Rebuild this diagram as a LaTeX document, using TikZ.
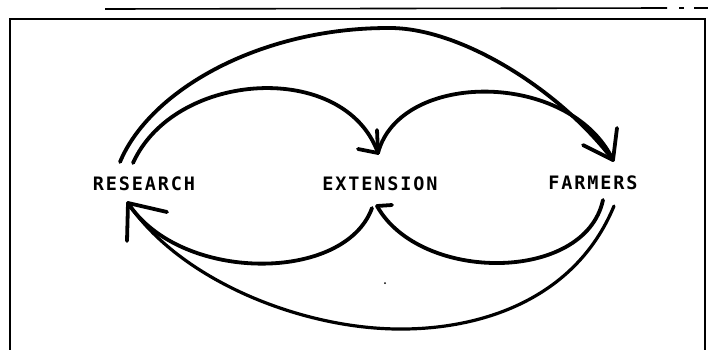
\documentclass[tikz,border=0pt]{standalone}
\usepackage{fontspec}
\newfontfamily\plotfont[LetterSpace=10]{DejaVu Sans Mono}
\begin{document}
\begin{tikzpicture}[x=1pt,y=-1pt,
  pen/.style={line width=3.8pt,line cap=round,line join=round},
  thinpen/.style={line width=3.2pt,line cap=round,line join=round},
  lab/.style={font=\plotfont\bfseries\fontsize{18.5}{18.5}\selectfont,inner sep=0pt,anchor=center}]
\useasboundingbox (0,0) rectangle (708,349);
\clip (0,0) rectangle (708,349);
\fill[white] (0,0) rectangle (708,349);
% scan line and frame
\draw[line width=1.6pt] (105,9) -- (667,8);
\draw[line width=1.4pt] (679,8) -- (684,8);
\draw[line width=1.4pt] (694,8) -- (708,8);
\draw[line width=1.8pt] (10,360) -- (10,19) -- (705,19) -- (705,360);
% labels
\node[lab] (research) at (144,184) {RESEARCH};
\node[lab] (extension) at (380,184) {EXTENSION};
\node[lab] (farmers) at (593,183) {FARMERS};
% anchor points
\coordinate (R1) at (120,162);
\coordinate (R2) at (133,163);
\coordinate (Rtip) at (128,203);
\coordinate (Etop) at (378,153);
\coordinate (Ebot) at (377,206);
\coordinate (Eout) at (372,208);
\coordinate (Ftip) at (613,160);
\coordinate (F1) at (603,200);
\coordinate (F2) at (614,206);
\coordinate (P) at (388,28);
\coordinate (Q) at (397,329);
% upper arcs
\draw[pen] (R1) .. controls (150,90) and (260,28) .. (P)
  .. controls (460,27) and (560,90) .. (Ftip);
\draw[pen] (R2) .. controls (175,70) and (345,60) .. (Etop);
\draw[pen] (Etop) .. controls (400,70) and (570,70) .. (Ftip);
% lower arcs
\draw[pen] (F1) .. controls (585,283) and (420,283) .. (Ebot);
\draw[pen] (Eout) .. controls (345,283) and (180,283) .. (Rtip);
\draw[thinpen] (F2) .. controls (575,300) and (480,330) .. (Q)
  .. controls (300,328) and (180,280) .. (Rtip);
% arrowheads
\draw[pen] (Rtip) -- (127,241);
\draw[pen] (Rtip) -- (167,212);
\draw[pen] (Etop) -- (358,149);
\draw[pen] (Etop) -- (377,130);
\draw[pen] (Ebot) -- (392,205);
\draw[pen] (Ftip) -- (583,145);
\draw[pen] (Ftip) -- (617,128);
% speck
\fill (385,283) circle (1);
\end{tikzpicture}
\end{document}
